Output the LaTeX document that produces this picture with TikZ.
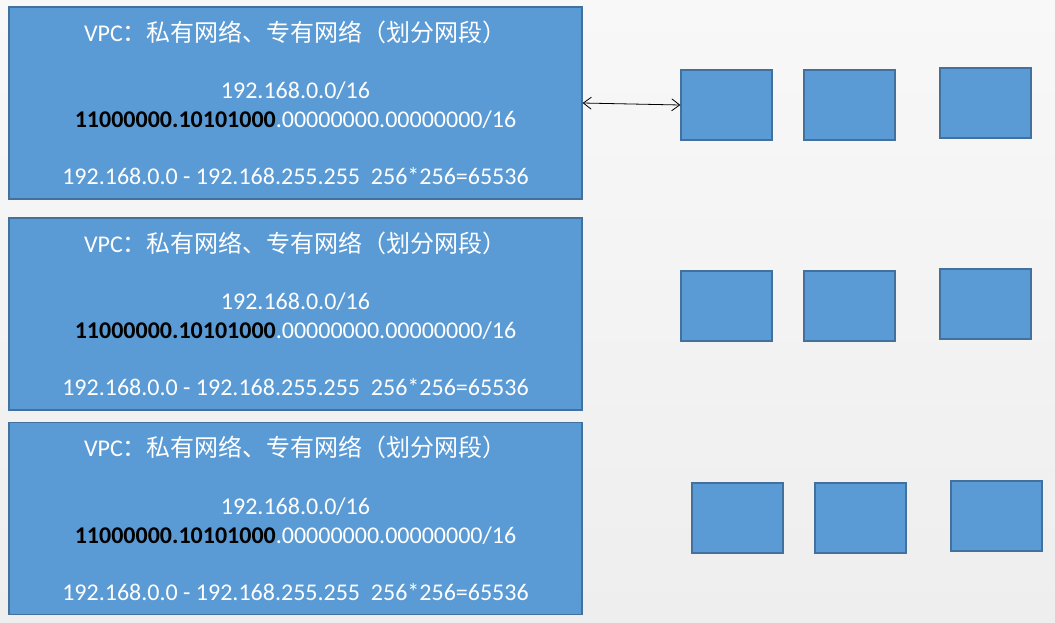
\documentclass[tikz,border=0pt]{standalone}
\usepackage{fontspec}
\usepackage{xcolor}
\usetikzlibrary{arrows.meta}
\setmainfont{Carlito}
\newfontfamily\cjk{Noto Sans CJK SC}

\definecolor{boxblue}{RGB}{91,155,213}
\definecolor{boxline}{RGB}{65,113,156}
\definecolor{bgtop}{RGB}{248,248,248}
\definecolor{bgbottom}{RGB}{238,238,238}

\newcommand{\vpctext}{%
	VPC{\cjk ：私有网络、专有网络（划分网段）}\\[28.7pt]
	192.168.0.0/16\\
	{\bfseries\color{black}11000000.10101000}.00000000.00000000/16\\[28.7pt]
	192.168.0.0 - 192.168.255.255~~256*256=65536}

\begin{document}
\begin{tikzpicture}[x=1pt,y=-1pt,
	vpcbox/.style={draw=boxline, fill=boxblue, line width=1.3pt,
		minimum width=573pt, minimum height=192pt, inner sep=0pt,
		text=white, align=center, font=\fontsize{24}{28.7}\selectfont},
	subnet/.style={draw=boxline, fill=boxblue, line width=1.3pt,
		minimum width=91pt, minimum height=70pt, inner sep=0pt}]
	% background
	\useasboundingbox (0,0) rectangle (1055,622);
	\shade[top color=bgtop, bottom color=bgbottom] (0,0) rectangle (1055,622);
	
	% the three VPCs
	\node[vpcbox] (vpc1) at (295.5,103) {\vpctext};
	\node[vpcbox] (vpc2) at (295.5,314) {\vpctext};
	\node[vpcbox] (vpc3) at (295.5,518.5) {\vpctext};
	
	% subnets, three in each row
	\foreach \r/\dx/\y in {1/0/70, 2/0/271, 3/11/483}{
		\node[subnet] (sub\r1) at ({726.5+\dx},{\y+35}) {};
		\node[subnet] (sub\r2) at ({849.5+\dx},{\y+35}) {};
		\node[subnet] (sub\r3) at ({985.5+\dx},{\y+33}) {};
	}
	
	\draw[{Straight Barb[length=8pt,width=12pt]}-{Straight Barb[length=8pt,width=12pt]}, line width=0.8pt]
		(vpc1.east) -- (sub11.west);
\end{tikzpicture}
\end{document}
